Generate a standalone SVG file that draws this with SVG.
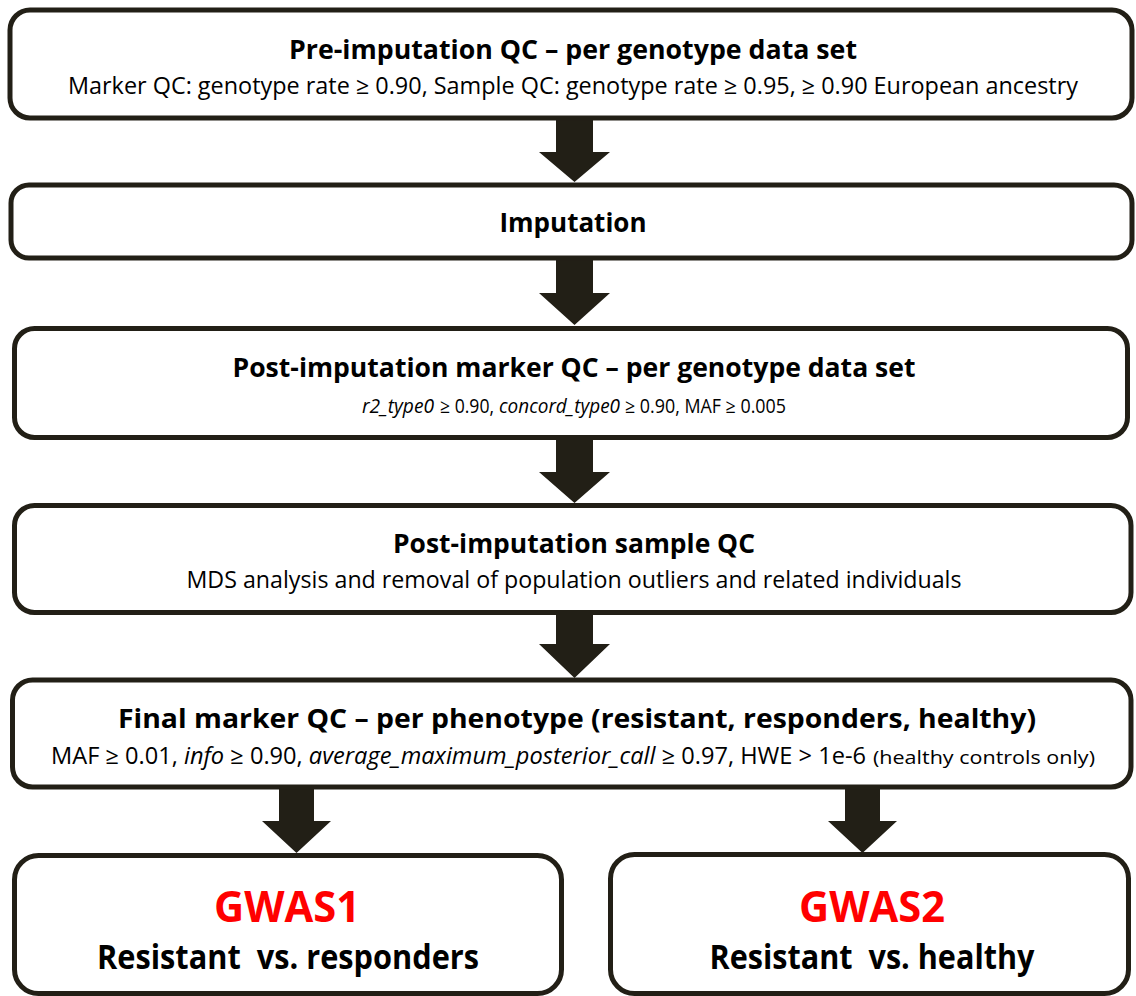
<svg xmlns="http://www.w3.org/2000/svg" width="1136" height="996" viewBox="0 0 1136 996">
<style>
.box{fill:#ffffff;stroke:#221f16;stroke-width:5}
.arr{fill:#221f16;stroke:none}
text{font-family:"Open Sans","Noto Sans","Liberation Sans",sans-serif;fill:#000;text-anchor:middle}
.t{font-weight:bold;font-size:27px}
.s{font-size:23.5px}
.m{font-size:19.5px;text-anchor:start}
.i{font-style:italic}
.g{font-weight:bold;font-size:43px;fill:#ff0000}
.r{font-weight:bold;font-size:34px}
</style>
<rect width="1136" height="996" fill="#ffffff"/>
<g id="connectors">
<polygon class="arr" points="556,118 593,118 593,152 610,152 574.5,182 539,152 556,152"/>
<polygon class="arr" points="556,258 593,258 593,293 610,293 574.5,325 539,293 556,293"/>
<polygon class="arr" points="556,438 593,438 593,472 610,472 574.5,503 539,472 556,472"/>
<polygon class="arr" points="556,612 593,612 593,644 610,644 574.5,678 539,644 556,644"/>
<polygon class="arr" points="279,787 314,787 314,821 331,821 296.5,853 262,821 279,821"/>
<polygon class="arr" points="845,787 880,787 880,821 897,821 862.5,853 828,821 845,821"/>
</g>
<g id="pre-imputation-qc">
<rect class="box" x="10" y="10" width="1122" height="108" rx="20"/>
<text class="t" x="573" y="59" textLength="568" lengthAdjust="spacingAndGlyphs">Pre-imputation QC – per genotype data set</text>
<text class="s" x="573" y="94" textLength="1010" lengthAdjust="spacingAndGlyphs">Marker QC: genotype rate ≥ 0.90, Sample QC: genotype rate ≥ 0.95, ≥ 0.90 European ancestry</text>
</g>
<g id="imputation">
<rect class="box" x="11" y="185" width="1121" height="73" rx="18"/>
<text class="t" x="573" y="232" textLength="147" lengthAdjust="spacingAndGlyphs">Imputation</text>
</g>
<g id="post-imputation-marker-qc">
<rect class="box" x="14.5" y="328.5" width="1113" height="109" rx="20"/>
<text class="t" x="574" y="377" textLength="683" lengthAdjust="spacingAndGlyphs">Post-imputation marker QC – per genotype data set</text>
<text class="m i" x="362" y="413" textLength="72" lengthAdjust="spacingAndGlyphs">r2_type0</text>
<text class="m" x="440" y="413" textLength="54" lengthAdjust="spacingAndGlyphs">≥ 0.90,</text>
<text class="m i" x="499" y="413" textLength="121" lengthAdjust="spacingAndGlyphs">concord_type0</text>
<text class="m" x="625" y="413" textLength="161" lengthAdjust="spacingAndGlyphs">≥ 0.90, MAF ≥ 0.005</text>
</g>
<g id="post-imputation-sample-qc">
<rect class="box" x="14.5" y="505.5" width="1116.5" height="107" rx="20"/>
<text class="t" x="574" y="553" textLength="362" lengthAdjust="spacingAndGlyphs">Post-imputation sample QC</text>
<text class="s" x="574" y="588" textLength="775" lengthAdjust="spacingAndGlyphs">MDS analysis and removal of population outliers and related individuals</text>
</g>
<g id="final-marker-qc">
<rect class="box" x="12.5" y="680" width="1118.5" height="107" rx="20"/>
<text class="t" x="577" y="728" textLength="918" lengthAdjust="spacingAndGlyphs">Final marker QC – per phenotype (resistant, responders, healthy)</text>
<text class="s" x="51" y="764" style="text-anchor:start" textLength="815" lengthAdjust="spacingAndGlyphs">MAF ≥ 0.01, <tspan class="i">info</tspan> ≥ 0.90, <tspan class="i">average_maximum_posterior_call</tspan> ≥ 0.97, HWE &gt; 1e-6</text>
<text x="873" y="764" style="text-anchor:start;font-size:18px" textLength="222" lengthAdjust="spacingAndGlyphs">(healthy controls only)</text>
</g>
<g id="gwas1">
<rect class="box" x="14.5" y="855.5" width="547" height="138" rx="24"/>
<text class="g" x="287" y="922" textLength="146" lengthAdjust="spacingAndGlyphs">GWAS1</text>
<text class="r" x="288" y="969" textLength="382" lengthAdjust="spacingAndGlyphs">Resistant&#160; vs. responders</text>
</g>
<g id="gwas2">
<rect class="box" x="610.5" y="854.5" width="518" height="139" rx="24"/>
<text class="g" x="872" y="922" textLength="146" lengthAdjust="spacingAndGlyphs">GWAS2</text>
<text class="r" x="872" y="969" textLength="325" lengthAdjust="spacingAndGlyphs">Resistant&#160; vs. healthy</text>
</g>
</svg>
